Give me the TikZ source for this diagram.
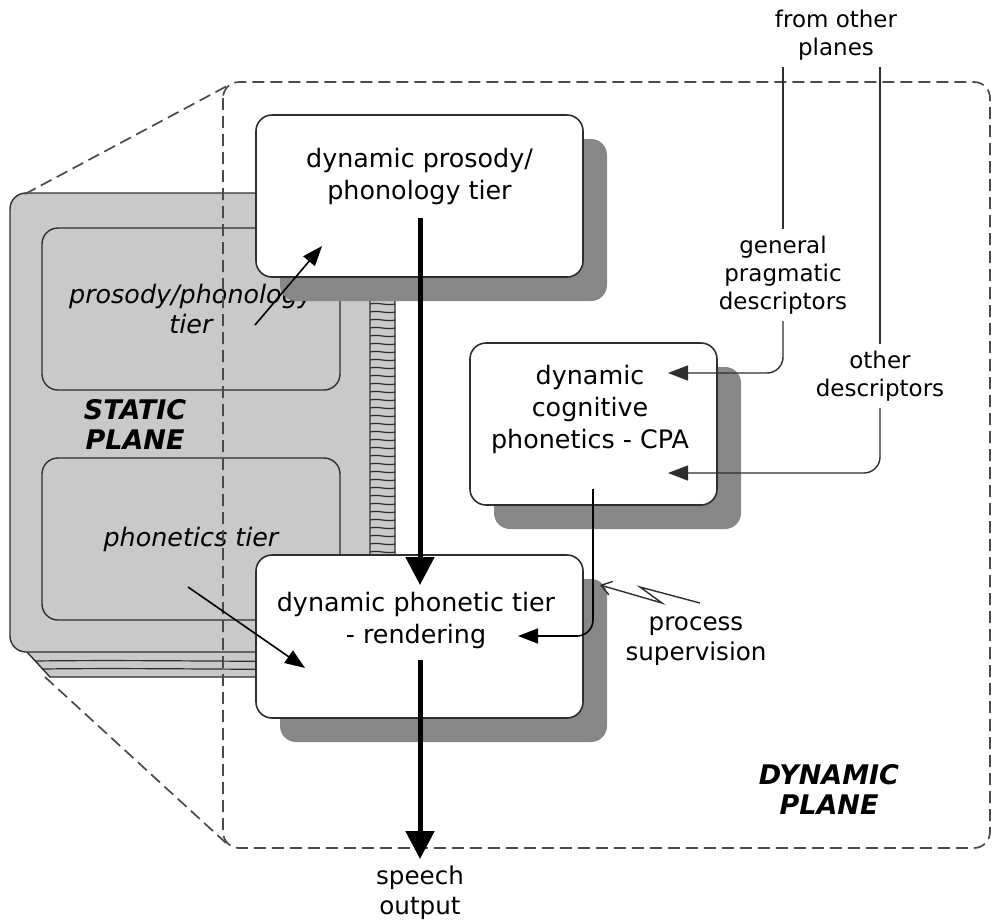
\documentclass[tikz,border=0pt]{standalone}
\usepackage{fontspec}
\setmainfont{DejaVu Sans}[BoldFont={DejaVu Sans Bold},ItalicFont={DejaVu Sans Oblique},BoldItalicFont={DejaVu Sans Bold Oblique}]
\usepackage{tikz}
\usetikzlibrary{arrows.meta,positioning,calc,shadows}
\usepackage{xcolor}
\definecolor{sheetgray}{HTML}{C9C9C9}
\definecolor{shadegray}{HTML}{878787}
\definecolor{edgegray}{HTML}{2E2E2E}
\definecolor{dashgray}{HTML}{4A4A4A}

\begin{document}
\begin{tikzpicture}[x=0.5pt,y=-0.5pt,>=Latex,
  tierbox/.style={draw=edgegray,fill=white,line width=0.8pt,rounded corners=8pt,
    drop shadow={shadow xshift=12pt,shadow yshift=-12pt,fill=shadegray,opacity=1}},
  boxtext/.style={align=center,font=\fontsize{12.7}{16}\selectfont},
  note/.style={align=center,font=\fontsize{11.5}{14}\selectfont},
  bignote/.style={align=center,font=\fontsize{12.3}{15}\selectfont},
  statictier/.style={draw=edgegray,fill=sheetgray,line width=0.7pt,rounded corners=8pt,
    minimum width=149pt,minimum height=81pt,align=center,
    font=\fontsize{12.7}{15}\selectfont\itshape},
  planetitle/.style={align=center,font=\fontsize{13.5}{15}\selectfont\bfseries\itshape},
  planeedge/.style={dashgray,line width=0.85pt,dash pattern=on 6pt off 3pt},
  flowarrow/.style={line width=2.5pt,-{Triangle[length=14pt,width=14pt]}},
  feedarrow/.style={black,line width=0.8pt,-{Triangle[length=10pt,width=7.5pt]}},
  ]
  \useasboundingbox (0,0) rectangle (998,923);
  % static plane (stack of sheets)
  \filldraw[fill=sheetgray,draw=edgegray,line width=0.7pt] (27,652) -- (50,677) -- (395,677) -- (395,215) -- (370,193) -- cycle;
  \foreach \yy in {661,669}
    \draw[edgegray,line width=0.6pt] (35+\yy-661,\yy) .. controls (150,\yy-1.5) and (260,\yy+1.5) .. (395,\yy);
  \foreach \yy in {296,304,...,552}
    \draw[edgegray,line width=0.6pt] (370,\yy) .. controls (378,\yy-2) and (387,\yy+2) .. (395,\yy);
  \filldraw[fill=sheetgray,draw=edgegray,line width=0.7pt,rounded corners=8pt] (10,193) rectangle (370,652);
  \node[statictier] (ptier) at (191,309) {prosody/phonology\\tier};
  \node[statictier] (ftier) at (191,539) {phonetics tier};
  \node[planetitle] (static) at (135,424) {STATIC\\PLANE};
  % dynamic plane
  \draw[planeedge,rounded corners=8pt] (223,82) rectangle (990,848);
  \draw[planeedge] (25,194) -- (227,86);
  \draw[planeedge] (45,677) -- (226,843);
  \node[planetitle] (dynamic) at (829,789) {DYNAMIC\\PLANE};
  % dynamic tiers
  \node[tierbox,minimum width=163.5pt,minimum height=81pt] (pros) at (419.5,196) {};
  \node[boxtext] (prostext) at (419.5,176) {dynamic prosody/\\phonology tier};
  \node[tierbox,minimum width=123.5pt,minimum height=81pt] (cpa) at (593.5,424) {};
  \node[boxtext] (cpatext) at (590,409) {dynamic\\cognitive\\phonetics - CPA};
  \node[tierbox,minimum width=163.5pt,minimum height=81.5pt] (phon) at (419.5,636.5) {};
  \node[boxtext] (phontext) at (416,620) {dynamic phonetic tier\\- rendering};
  % labels
  \node[note] (planes) at (836,35) {from other\\planes};
  \node[note] (prag) at (783,275) {general\\pragmatic\\descriptors};
  \node[note] (other) at (880,376) {other\\descriptors};
  \node[bignote] (superv) at (696,641) {process\\supervision};
  \node[bignote] (speech) at (420,893) {speech\\output};
  % arrow ends inside the boxes
  \coordinate (ptierout) at (255,325);
  \coordinate (prosin) at (322,246);
  \coordinate (ftierout) at (188,587);
  \coordinate (phonin) at (305,668);
  \coordinate (prosout) at (420,218);
  \coordinate (phontop) at (420,585);
  \coordinate (phonout) at (420,660);
  \coordinate (cpain) at (668,373);
  \coordinate (cpainb) at (668,473);
  \coordinate (cpaout) at (593,489);
  \coordinate (phonside) at (518,636);
  \coordinate (zz) at (600,585);
  % static to dynamic
  \draw[feedarrow] (ptierout) -- (prosin);
  \draw[feedarrow] (ftierout) -- (phonin);
  % main flow
  \draw[flowarrow] (prosout) -- (phontop);
  \draw[flowarrow] (phonout) -- (speech.north);
  % descriptors
  \draw[edgegray,line width=0.7pt] (prag.north |- planes.south) -- (prag.north);
  \draw[feedarrow,edgegray,line width=0.7pt,rounded corners=8pt] (prag.south) |- (cpain);
  \draw[edgegray,line width=0.7pt] (other.north |- planes.south) -- (other.north);
  \draw[feedarrow,edgegray,line width=0.7pt,rounded corners=8pt] (other.south) |- (cpainb);
  % supervision
  \draw[feedarrow,rounded corners=8pt] (cpaout) |- (phonside);
  \draw[edgegray,line width=0.7pt,-{Straight Barb[length=5pt,width=7pt]}] (700,603) -- (640,587) -- (662,603) -- (zz);
\end{tikzpicture}
\end{document}
